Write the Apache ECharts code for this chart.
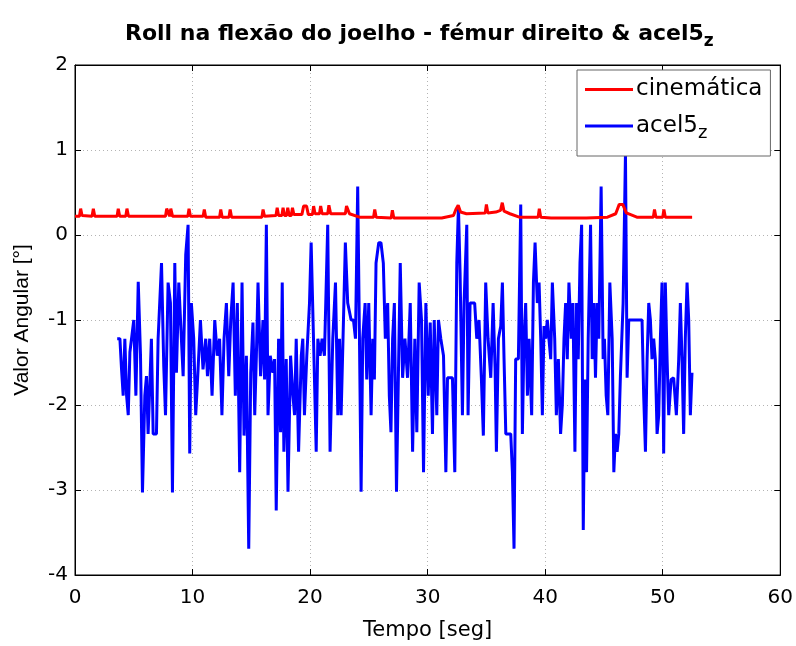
<!DOCTYPE html>
<html><head><meta charset="utf-8">
<script src="https://cdn.jsdelivr.net/npm/echarts@6/dist/echarts.min.js"></script>
<style>html,body{margin:0;padding:0;background:#fff}#c{width:796px;height:646px}</style>
</head><body><div id="c"></div>
<script>
var xTicks = [0, 10, 20, 30, 40, 50, 60];
var yTicks = [-4, -3, -2, -1, 0, 1, 2];

var redT = [0,0.38,0.48,0.6,1.45,1.56,1.68,3.58,3.68,3.8,4.32,4.42,4.55,7.7,7.8,7.9,8.05,8.15,8.3,9.6,9.7,9.82,10.9,11.0,11.12,12.3,12.4,12.52,13.1,13.2,13.32,15.9,16.0,16.12,17.1,17.2,17.32,17.6,17.7,17.82,18.0,18.1,18.22,18.4,18.5,18.62,19.3,19.45,19.7,19.85,20.2,20.3,20.42,20.8,20.9,21.02,21.5,21.6,21.75,23.0,23.1,23.35,24.2,25.4,25.5,25.62,26.9,27.0,27.12,29.5,31.2,32.2,32.4,32.6,32.8,33.3,34.9,35.0,35.12,35.8,36.2,36.35,36.5,37.0,37.8,39.4,39.5,39.62,40.5,43.5,45.3,46.0,46.3,46.6,46.9,47.8,49.2,49.3,49.42,50.0,50.1,50.22,52.5];
var redV = [0.22,0.22,0.31,0.23,0.22,0.31,0.22,0.22,0.31,0.22,0.22,0.31,0.22,0.22,0.31,0.31,0.22,0.31,0.22,0.22,0.31,0.22,0.22,0.3,0.21,0.21,0.3,0.21,0.21,0.3,0.21,0.21,0.3,0.22,0.23,0.32,0.23,0.23,0.32,0.23,0.23,0.32,0.23,0.23,0.32,0.24,0.24,0.34,0.34,0.24,0.24,0.34,0.25,0.25,0.34,0.25,0.25,0.35,0.25,0.25,0.34,0.25,0.21,0.21,0.3,0.21,0.2,0.29,0.2,0.2,0.2,0.23,0.3,0.35,0.27,0.25,0.26,0.36,0.26,0.27,0.29,0.38,0.28,0.25,0.21,0.21,0.31,0.21,0.2,0.2,0.21,0.25,0.36,0.36,0.26,0.21,0.21,0.3,0.21,0.21,0.3,0.21,0.21];

var blueT = [3.59,3.82,3.96,4.1,4.24,4.39,4.53,4.67,4.81,5.0,5.18,5.38,5.57,5.74,5.94,6.08,6.22,6.5,6.65,6.93,7.07,7.36,7.55,7.7,7.92,8.12,8.29,8.49,8.63,8.83,9.0,9.2,9.42,9.62,9.76,9.9,10.1,10.27,10.47,10.67,10.89,11.12,
11.27,11.46,11.66,11.89,12.1,12.3,12.5,12.68,12.88,13.08,13.25,13.45,13.64,13.81,14.01,14.21,14.38,14.58,14.78,14.95,15.14,15.29,15.43,15.57,15.79,15.99,16.13,16.28,16.42,16.61,16.84,16.98,17.12,17.32,17.49,17.63,17.77,17.97,18.12,18.34,18.54,18.68,18.82,19.02,19.25,
19.38,19.52,19.72,19.95,20.09,20.29,20.52,20.66,20.85,21.02,21.22,21.5,21.7,21.93,22.16,22.36,22.5,22.64,22.84,23.0,23.2,23.35,23.49,23.69,23.86,24.05,24.2,24.34,24.48,24.68,24.82,24.99,25.19,25.33,25.47,25.61,25.84,26.03,26.23,26.4,26.6,26.74,26.88,27.02,27.17,27.35,
27.67,27.87,28.07,28.29,28.52,28.72,28.91,29.08,29.28,29.48,29.65,29.85,30.05,30.22,30.41,30.56,30.78,30.92,31.12,31.35,31.55,31.69,31.91,32.11,32.31,32.48,32.62,32.76,32.96,33.1,33.33,33.44,33.61,33.81,34.0,34.18,34.37,34.57,34.74,34.94,35.14,35.37,35.57,
35.74,35.85,36.02,36.22,36.36,36.5,36.65,36.87,37.07,37.21,37.35,37.49,37.72,37.92,38.06,38.2,38.34,38.49,38.63,38.85,39.0,39.14,39.33,39.48,39.62,39.76,39.9,40.04,40.18,40.32,40.47,40.61,40.81,40.95,41.12,41.31,41.46,41.6,41.74,41.88,42.02,42.22,42.36,42.53,42.67,42.81,42.96,43.1,43.24,43.38,43.52,43.66,
43.86,44.0,44.14,44.28,44.42,44.56,44.76,44.93,45.04,45.19,45.33,45.5,45.7,45.84,45.98,46.12,46.26,46.4,46.63,46.83,46.97,47.11,47.25,47.82,48.24,48.38,48.53,48.67,48.81,48.95,49.09,49.23,49.37,49.52,49.66,49.8,49.94,50.08,50.22,50.37,50.51,50.71,50.93,51.16,51.36,51.5,51.64,51.78,51.92,52.07,52.21,52.35,52.49];
var blueV = [-1.22,-1.22,-1.58,-1.89,-1.22,-1.89,-2.12,-1.38,-1.22,-1.0,-1.89,-0.55,-1.4,-3.03,-1.89,-1.66,-2.34,-1.22,-2.34,-2.34,-1.22,-0.33,-1.54,-2.12,-0.56,-0.8,-3.03,-0.33,-1.62,-0.56,-1.07,-1.66,-0.23,0.12,-2.57,-0.8,-1.22,-2.12,-1.58,-1.0,-1.58,-1.22,
-1.66,-1.22,-1.89,-1.0,-1.42,-1.22,-2.12,-1.22,-0.8,-1.66,-1.0,-0.56,-1.89,-0.8,-2.79,-0.56,-2.36,-1.42,-3.69,-1.62,-1.03,-2.12,-1.42,-0.56,-1.66,-1.0,-1.7,0.12,-2.12,-1.42,-1.62,-1.46,-3.24,-1.22,-2.32,-0.56,-2.55,-1.46,-3.02,-1.42,-1.89,-2.12,-1.22,-2.55,-1.42,
-1.22,-2.12,-1.42,-0.8,-0.09,-1.22,-2.55,-1.22,-1.42,-1.22,-1.42,0.12,-2.55,-1.22,-0.56,-2.12,-1.22,-2.12,-1.0,-0.09,-0.8,-0.8,-1.0,-1.0,-1.22,0.57,-1.22,-3.02,-1.22,-0.8,-1.7,-0.8,-2.12,-1.22,-1.7,-0.33,-0.09,-0.09,-0.33,-1.22,-0.8,-1.89,-2.32,-1.22,-0.8,-3.02,
-0.33,-1.68,-1.22,-1.68,-0.8,-2.55,-1.22,-2.32,-0.56,-1.0,-2.79,-0.8,-1.89,-1.03,-2.34,-1.0,-2.12,-1.0,-1.22,-1.42,-2.79,-1.68,-1.68,-1.68,-2.79,-0.33,0.34,-0.45,-2.12,-0.8,0.12,-2.12,-0.8,-0.8,-0.8,-1.22,-1.0,-1.68,-2.36,-0.56,-1.22,-1.68,-0.8,
-1.58,-2.55,-1.22,-1.07,-0.56,-1.46,-2.34,-2.34,-2.34,-2.79,-3.69,-1.46,-1.46,0.36,-2.34,-1.22,-0.8,-1.89,-1.22,-2.12,-0.56,-0.09,-0.8,-0.56,-1.22,-2.12,-1.07,-1.22,-1.0,-1.0,-1.46,-0.56,-1.22,-2.12,-1.46,-2.34,-2.0,-1.22,-0.8,-1.46,-0.56,-1.22,-0.8,-2.55,-0.8,-1.46,-0.33,0.12,-3.47,-1.7,-2.79,-1.22,
0.12,-1.46,-0.8,-1.68,-0.8,-1.22,0.57,-1.46,-1.22,-1.89,-2.12,-0.56,-1.22,-2.79,-2.34,-2.55,-2.34,-1.66,-0.8,0.96,-1.68,-1.0,-1.0,-1.0,-1.0,-1.89,-2.55,-1.46,-0.8,-1.0,-1.46,-1.22,-1.46,-2.34,-2.12,-1.22,-0.56,-2.57,-0.56,-1.46,-2.12,-1.7,-1.68,-2.12,-1.46,-0.8,-1.46,-2.34,-1.22,-0.56,-1.0,-2.12,-1.62];

function pairs(t, v){ var o=[]; for (var i=0;i<t.length;i++) o.push([t[i], v[i]]); return o; }

var FONT = '"Liberation Sans", Arial, sans-serif';
var WIDE = '"DejaVu Sans", sans-serif';
var chart = echarts.init(document.getElementById('c'), null, {renderer:'canvas'});
var gridLine = {show:true, lineStyle:{color:'#b4b4b4', type:[1,3], width:1}};
chart.setOption({
  animation:false,
  backgroundColor:'#fff',
  title:{
    text:'{t|Roll na flexão do joelho - fémur direito & acel5}{s|z}',
    left:120, top:16,
    textStyle:{rich:{
      t:{fontFamily:WIDE, fontWeight:'bold', fontSize:22, color:'#000', lineHeight:26},
      s:{fontFamily:WIDE, fontWeight:'bold', fontSize:17, color:'#000', padding:[16,0,0,0], lineHeight:26}
    }}
  },
  legend:{
    orient:'vertical', left:577, top:70,
    backgroundColor:'#fff', borderColor:'#666', borderWidth:1, borderRadius:0,
    padding:[8,8,14,8], itemGap:9, itemWidth:48, itemHeight:3,
    icon:'rect',
    data:['cinemática','acel5z'],
    formatter:function(n){ return n==='acel5z' ? '{a|acel5}{s|z}' : '{a|cinemática}'; },
    textStyle:{padding:[0,0,0,-2], rich:{
      a:{fontFamily:WIDE, fontSize:23, color:'#000', lineHeight:26},
      s:{fontFamily:WIDE, fontSize:18, color:'#000', padding:[14,0,0,0], lineHeight:26}
    }}
  },
  grid:{left:75, right:14, top:65, bottom:69, show:true, borderColor:'#000', borderWidth:1, backgroundColor:'transparent'},
  xAxis:[{
    type:'value', min:xTicks[0], max:xTicks[xTicks.length-1], interval:10,
    name:'Tempo [seg]', nameLocation:'middle', nameGap:45,
    nameTextStyle:{fontFamily:WIDE, fontSize:21, color:'#000'},
    axisLine:{show:true, onZero:false, lineStyle:{color:'#000'}},
    axisTick:{show:true, inside:true, length:6, lineStyle:{color:'#000'}},
    axisLabel:{fontFamily:WIDE, fontSize:20, color:'#000', margin:13},
    splitLine:gridLine
  },{
    type:'value', position:'top', min:0, max:60, interval:10,
    axisLine:{show:true, onZero:false, lineStyle:{color:'#000'}},
    axisTick:{show:true, inside:true, length:6, lineStyle:{color:'#000'}},
    axisLabel:{show:false}, splitLine:{show:false}
  }],
  yAxis:[{
    type:'value', min:yTicks[0], max:yTicks[yTicks.length-1], interval:1,
    name:'Valor Angular [°]', nameLocation:'middle', nameGap:42, nameRotate:90,
    nameTextStyle:{fontFamily:FONT, fontSize:21, color:'#000'},
    axisLine:{show:true, onZero:false, lineStyle:{color:'#000'}},
    axisTick:{show:true, inside:true, length:6, lineStyle:{color:'#000'}},
    axisLabel:{fontFamily:WIDE, fontSize:20, color:'#000', margin:7},
    splitLine:gridLine
  },{
    type:'value', position:'right', min:-4, max:2, interval:1,
    axisLine:{show:true, onZero:false, lineStyle:{color:'#000'}},
    axisTick:{show:true, inside:true, length:6, lineStyle:{color:'#000'}},
    axisLabel:{show:false}, splitLine:{show:false}
  }],
  series:[
    {name:'cinemática', type:'line', data:pairs(redT, redV), symbol:'none', lineStyle:{color:'#ff0000', width:3}, itemStyle:{color:'#ff0000'}, z:3},
    {name:'acel5z', type:'line', data:pairs(blueT, blueV), symbol:'none', lineStyle:{color:'#0000ff', width:3}, itemStyle:{color:'#0000ff'}, z:2}
  ]
});
</script></body></html>
